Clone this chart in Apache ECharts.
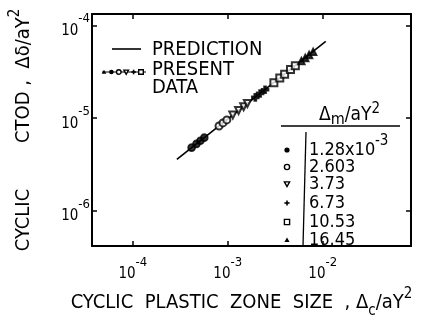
<!DOCTYPE html>
<html><head><meta charset="utf-8">
<script src="https://cdn.jsdelivr.net/npm/echarts@6/dist/echarts.min.js"></script>
<style>html,body{margin:0;padding:0;background:#fff}#c{width:423px;height:326px}</style>
</head><body><div id="c"></div>
<script>
const FONT = 'DejaVu Sans Condensed';
const xTickExps = [-4, -3, -2];
const yTickExps = [-6, -5, -4];
const xRange = [3.715e-5, 0.0851];
const yRange = [4.17e-7, 1.334e-4];

const predX = [2.91e-4, 1.076e-2];
const predY = [3.60e-6, 6.76e-5];

const seriesNames = ['1.28x10^-3', '2.603', '3.73', '6.73', '10.53', '16.45'];
const s1X = [4.16e-4, 4.68e-4, 5.15e-4, 5.66e-4];
const s1Y = [4.81e-6, 5.28e-6, 5.71e-6, 6.17e-6];
const s2X = [8.09e-4, 8.89e-4, 9.77e-4];
const s2Y = [8.24e-6, 8.89e-6, 9.59e-6];
const s3X = [1.13e-3, 1.30e-3, 1.47e-3, 1.61e-3];
const s3Y = [1.08e-5, 1.21e-5, 1.33e-5, 1.44e-5];
const s4X = [1.95e-3, 2.19e-3, 2.47e-3];
const s4Y = [1.68e-5, 1.85e-5, 2.03e-5];
const s5X = [3.06e-3, 3.53e-3, 3.97e-3, 4.58e-3, 5.15e-3];
const s5Y = [2.42e-5, 2.72e-5, 2.99e-5, 3.36e-5, 3.69e-5];
const s6X = [5.96e-3, 6.55e-3, 7.19e-3, 7.93e-3];
const s6Y = [4.15e-5, 4.48e-5, 4.83e-5, 5.22e-5];

const allX = [s1X, s2X, s3X, s4X, s5X, s6X];
const allY = [s1Y, s2Y, s3Y, s4Y, s5Y, s6Y];
const PLUS = 'path://M3.5,0H6.5V3.5H10V6.5H6.5V10H3.5V6.5H0V3.5H3.5Z';
const symbolDefs = [
  {symbol: 'circle', rot: 0, key: 'circle'},
  {symbol: 'emptyCircle', rot: 0, key: 'emptyCircle'},
  {symbol: 'emptyTriangle', rot: 180, key: 'triDown'},
  {symbol: PLUS, rot: 0, key: 'plus'},
  {symbol: 'emptyRect', rot: 0, key: 'emptyRect'},
  {symbol: 'triangle', rot: 0, key: 'triangle'}
];

const zip = (xs, ys) => xs.map((x, i) => [x, ys[i]]);

function tickFmt(exps) {
  return function (v) {
    const e = Math.log10(v);
    const r = Math.round(e);
    if (Math.abs(e - r) > 1e-6 || exps.indexOf(r) < 0) return '';
    return '{b|10}{s|' + r + '}';
  };
}
const tickRich = {
  b: {fontSize: 15, fontFamily: FONT, color: '#000', lineHeight: 26, verticalAlign: 'bottom'},
  s: {fontSize: 13, fontFamily: FONT, color: '#000', lineHeight: 13, verticalAlign: 'top'}
};
const nameRich = {
  t: {fontSize: 20, fontFamily: FONT, color: '#000', lineHeight: 32, verticalAlign: 'middle'},
  p: {fontSize: 15, fontFamily: FONT, color: '#000', lineHeight: 15, verticalAlign: 'top'},
  b: {fontSize: 15, fontFamily: FONT, color: '#000', lineHeight: 15, verticalAlign: 'bottom'}
};

const axisLine = {show: true, lineStyle: {color: '#000', width: 2}};
const axisTick = {show: true, inside: true, length: 5, lineStyle: {color: '#000', width: 1.5}};

function mk(key, cx, cy, r) {
  const st = {stroke: '#000', lineWidth: 1.4, fill: '#fff'};
  if (key === 'circle') return {type: 'circle', shape: {cx, cy, r}, style: {fill: '#000'}};
  if (key === 'emptyCircle') return {type: 'circle', shape: {cx, cy, r}, style: st};
  if (key === 'triDown') return {type: 'polygon', shape: {points: [[cx - r, cy - r * 0.8], [cx + r, cy - r * 0.8], [cx, cy + r]]}, style: st};
  if (key === 'triangle') return {type: 'polygon', shape: {points: [[cx - r, cy + r * 0.8], [cx + r, cy + r * 0.8], [cx, cy - r]]}, style: {fill: '#000'}};
  if (key === 'emptyRect') return {type: 'rect', shape: {x: cx - r, y: cy - r, width: 2 * r, height: 2 * r}, style: st};
  return {type: 'group', children: [
    {type: 'rect', shape: {x: cx - r, y: cy - 0.8, width: 2 * r, height: 1.6}, style: {fill: '#000'}},
    {type: 'rect', shape: {x: cx - 0.8, y: cy - r, width: 1.6, height: 2 * r}, style: {fill: '#000'}}
  ]};
}

const graphics = [];
const LF = '20px "' + FONT + '"';
// upper legend
graphics.push({type: 'line', shape: {x1: 112, y1: 49, x2: 141, y2: 49}, style: {stroke: '#000', lineWidth: 1.6}});
graphics.push({type: 'text', x: 152, y: 50, style: {text: 'PREDICTION', font: LF, fill: '#000', verticalAlign: 'middle'}});
graphics.push({type: 'text', x: 152, y: 70, style: {text: 'PRESENT', font: LF, fill: '#000', verticalAlign: 'middle'}});
graphics.push({type: 'text', x: 152, y: 88, style: {text: 'DATA', font: LF, fill: '#000', verticalAlign: 'middle'}});
graphics.push({type: 'line', shape: {x1: 102, y1: 72, x2: 146, y2: 72}, style: {stroke: '#000', lineWidth: 1}});
const rowOrder = ['triangle', 'circle', 'emptyCircle', 'triDown', 'plus', 'emptyRect'];
rowOrder.forEach((k, i) => graphics.push(mk(k, 104 + i * 7.4, 72, 2.3)));

// table legend
graphics.push({type: 'text', x: 319, y: 115, style: {
  text: '{t|Δ}{b|m}{t|/aY}{p|2}', verticalAlign: 'middle',
  rich: {
    t: {fontSize: 19, fontFamily: FONT, fill: '#000', lineHeight: 26, verticalAlign: 'middle'},
    b: {fontSize: 16, fontFamily: FONT, fill: '#000', lineHeight: 15, verticalAlign: 'bottom'},
    p: {fontSize: 15, fontFamily: FONT, fill: '#000', lineHeight: 14, verticalAlign: 'top'}
  }
}});
graphics.push({type: 'line', shape: {x1: 281, y1: 126, x2: 400, y2: 126}, style: {stroke: '#000', lineWidth: 1.6}});
graphics.push({type: 'line', shape: {x1: 306, y1: 132, x2: 303, y2: 246}, style: {stroke: '#000', lineWidth: 1.3}});
const rowY = [150, 167, 184, 203, 222, 240];
seriesNames.forEach((n, i) => {
  graphics.push(mk(symbolDefs[i].key, 287, rowY[i], 2.6));
  const parts = n.split('^');
  graphics.push({type: 'text', x: 309, y: rowY[i], style: {
    text: parts[0], font: '18px "' + FONT + '"', fill: '#000', verticalAlign: 'middle'
  }});
  if (parts.length > 1) {
    graphics.push({type: 'text', x: 375, y: rowY[i] - 9, style: {
      text: parts[1], font: '15px "' + FONT + '"', fill: '#000', verticalAlign: 'middle'
    }});
  }
});

const series = [{
  type: 'line', xAxisIndex: 0, yAxisIndex: 0,
  data: zip(predX, predY), symbol: 'none', silent: true,
  lineStyle: {color: '#000', width: 1.6}, z: 2
}];
seriesNames.forEach((n, i) => {
  series.push({
    type: 'scatter', name: n, xAxisIndex: 0, yAxisIndex: 0,
    data: zip(allX[i], allY[i]),
    symbol: symbolDefs[i].symbol, symbolRotate: symbolDefs[i].rot, symbolSize: 7,
    itemStyle: {color: '#000', borderColor: '#000', borderWidth: 1.6}, z: 3
  });
});

const chart = echarts.init(document.getElementById('c'), null, {renderer: 'canvas'});
chart.setOption({
  backgroundColor: '#fff',
  animation: false,
  grid: {left: 90, top: 14, width: 321, height: 232},
  xAxis: [{
    type: 'log', logBase: 10, min: xRange[0], max: xRange[1], position: 'bottom',
    axisLine, axisTick, splitLine: {show: false}, minorTick: {show: false},
    axisLabel: {formatter: tickFmt(xTickExps), rich: tickRich, margin: 10, showMinLabel: false, showMaxLabel: false},
    name: '{t|CYCLIC  PLASTIC  ZONE  SIZE  , Δ}{b|c}{t|/aY}{p|2}',
    nameLocation: 'middle', nameGap: 39, nameTextStyle: {rich: nameRich, padding: [0, 20, 0, 0]}
  }, {
    type: 'log', logBase: 10, min: xRange[0], max: xRange[1], position: 'top',
    axisLine, axisTick, splitLine: {show: false}, axisLabel: {show: false}
  }],
  yAxis: [{
    type: 'log', logBase: 10, min: yRange[0], max: yRange[1], position: 'left',
    axisLine, axisTick, splitLine: {show: false}, minorTick: {show: false},
    axisLabel: {formatter: tickFmt(yTickExps), rich: tickRich, margin: 2, showMinLabel: false, showMaxLabel: false},
    name: '{t|CYCLIC        CTOD ,  Δδ/aY}{p|2}',
    nameLocation: 'middle', nameRotate: 90, nameGap: 52, nameTextStyle: {rich: nameRich}
  }, {
    type: 'log', logBase: 10, min: yRange[0], max: yRange[1], position: 'right',
    axisLine, axisTick, splitLine: {show: false}, axisLabel: {show: false}
  }],
  graphic: graphics,
  series
});
</script></body></html>
